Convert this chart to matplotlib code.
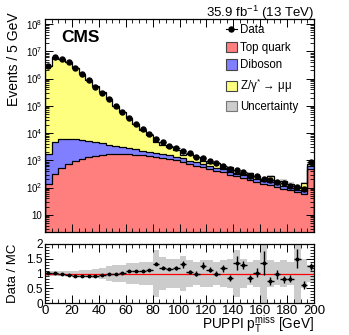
import numpy as np
import matplotlib
matplotlib.use("Agg")
import matplotlib.pyplot as plt
from matplotlib.patches import Patch
from matplotlib.lines import Line2D
from matplotlib.ticker import LogLocator, FixedLocator, MultipleLocator, NullFormatter

plt.rcParams['font.family'] = ['Liberation Sans', 'DejaVu Sans']
plt.rcParams['mathtext.fontset'] = 'custom'
plt.rcParams['mathtext.rm'] = 'Liberation Sans'
plt.rcParams['mathtext.it'] = 'Liberation Sans'

# ---- data (40 bins of 5 GeV, last bin includes overflow) ----
bin_edges = [0, 5, 10, 15, 20, 25, 30, 35, 40, 45, 50, 55, 60, 65, 70, 75, 80, 85, 90, 95,
             100, 105, 110, 115, 120, 125, 130, 135, 140, 145, 150, 155, 160, 165, 170, 175,
             180, 185, 190, 195, 200]

data_counts = [2.88e6, 6.17e6, 5.37e6, 3.98e6, 2.34e6, 1.41e6, 8.5e5, 4.8e5, 2.95e5, 1.78e5,
               1.0e5, 5.9e4, 3.7e4, 2.24e4, 1.41e4, 9550, 6310, 4570, 3470, 2950,
               2140, 1820, 1290, 1175, 912, 776, 631, 490, 457, 372,
               275, 263, 209, 195, 158, 145, 117, 102, 89, 871]

top_quark = [132, 316, 525, 759, 955, 1148, 1318, 1479, 1585, 1660,
             1698, 1698, 1660, 1622, 1549, 1479, 1349, 1259, 1148, 1000,
             871, 741, 646, 562, 490, 417, 363, 302, 257, 224,
             191, 166, 141, 123, 107, 91, 79, 68, 59, 490]

diboson = [1528, 4470, 5363, 5407, 5071, 4475, 3811, 3198, 2584, 2142,
           1769, 1392, 1094, 890, 742, 610, 556, 479, 401, 349,
           304, 236, 205, 179, 156, 120, 105, 87, 67, 58,
           49, 43, 37, 32, 28, 21, 19, 15, 13, 113]

drell_yan = [2.83e6, 6.06e6, 5.37e6, 4.15e6, 2.5e6, 1.52e6, 9.1e5, 5.1e5, 3.06e5, 1.8e5,
             9.7e4, 5.5e4, 3.2e4, 1.85e4, 1.08e4, 6400, 2880, 2064, 1471, 1106,
             447, 741, 437, 192, 161, 239, 71, 194, 30, 25,
             89, 48, 20, 104, 27, 68, 43, 15, 76, 105]

main_unc = [0.02] * 16 + [0.05] * 4 + [0.08] * 8 + [0.12] * 12

ratio = [1.02, 1.02, 1.0, 0.96, 0.93, 0.93, 0.93, 0.93, 0.95, 0.97,
         1.0, 1.01, 1.07, 1.07, 1.08, 1.12, 1.33, 1.2, 1.15, 1.2,
         1.32, 1.06, 1.0, 1.26, 1.13, 1.0, 1.17, 0.84, 1.36, 1.29,
         0.84, 1.03, 1.36, 0.75, 0.98, 0.8, 0.83, 1.5, 0.6, 1.24]

ratio_err = [0.01] * 11 + [0.03, 0.03, 0.03, 0.03, 0.03, 0.05, 0.04, 0.04, 0.07,
             0.12, 0.07, 0.07, 0.12, 0.09, 0.08, 0.12, 0.1, 0.25, 0.15,
             0.12, 0.15, 0.4, 0.13, 0.15, 0.12, 0.13, 0.33, 0.14, 0.12]

ratio_band = [0.08, 0.08, 0.08, 0.09, 0.10, 0.11, 0.13, 0.15, 0.2, 0.25,
              0.28, 0.3, 0.35, 0.35, 0.38, 0.4, 0.8, 0.55, 0.5, 0.5,
              0.6, 0.45, 0.4, 0.45, 0.45, 0.4, 0.45, 0.5, 0.8, 0.5,
              0.4, 0.45, 1.0, 0.45, 0.4, 0.45, 0.4, 1.0, 0.5, 0.3]

legend_labels = ["Data", "Top quark", "Diboson", "Z/\u03b3$^{*}$ \u2192 \u03bc\u03bc", "Uncertainty"]

# ---- styles ----
c_top = '#ff7f7f'
c_vv = '#7f7fff'
c_dy = '#ffff7f'
c_unc = '#cccccc'

edges = np.array(bin_edges, dtype=float)
centers = 0.5 * (edges[1:] + edges[:-1])
halfw = 0.5 * (edges[1:] - edges[:-1])
top_arr = np.array(top_quark, float)
vv_arr = np.array(diboson, float)
dy_arr = np.array(drell_yan, float)
s1 = top_arr
s2 = s1 + vv_arr
s3 = s2 + dy_arr
dat = np.array(data_counts, float)

W, H = 349, 335
fig = plt.figure(figsize=(W / 100, H / 100), dpi=100)
ax = fig.add_axes([45 / W, 1 - 232 / H, 269 / W, 213 / H])
rx = fig.add_axes([45 / W, 1 - 303 / H, 269 / W, 59 / H])

ax.set_yscale('log')
floor = 1e-3
ax.stairs(s3, edges, baseline=s2, fill=True, color=c_dy, lw=0)
ax.stairs(s2, edges, baseline=s1, fill=True, color=c_vv, lw=0)
ax.stairs(s1, edges, baseline=floor, fill=True, color=c_top, lw=0)
mu = np.array(main_unc)
ax.stairs(s3 * (1 + mu), edges, baseline=s3 * (1 - mu), fill=True, color='#999999', alpha=0.45, lw=0)
for s in (s1, s2, s3):
    ax.stairs(s, edges, color='black', lw=0.9)

ax.errorbar(centers, dat, yerr=np.sqrt(dat), xerr=halfw, fmt='o', color='black',
            ms=3.6, lw=0.8, capsize=0)

ax.set_xlim(0, 200)
ax.set_ylim(2.35, 1.53e8)
ax.yaxis.set_major_locator(LogLocator(base=10, numticks=20))
ax.yaxis.set_minor_locator(LogLocator(base=10, subs=np.arange(2, 10), numticks=20))
ax.yaxis.set_minor_formatter(NullFormatter())


def yfmt(v, pos):
    e = int(round(np.log10(v)))
    if e == 1:
        return '10'
    return r'$10^{%d}$' % e


ax.yaxis.set_major_formatter(plt.FuncFormatter(yfmt))
ax.xaxis.set_major_locator(MultipleLocator(20))
ax.xaxis.set_minor_locator(MultipleLocator(5))
ax.tick_params(axis='x', labelbottom=False)
for a in (ax, rx):
    a.tick_params(which='both', direction='in', top=True, right=True)
    a.tick_params(which='major', length=6, width=0.7)
    a.tick_params(which='minor', length=3, width=0.6)
    for sp in a.spines.values():
        sp.set_linewidth(0.9)
ax.tick_params(axis='y', labelsize=7, pad=2)

ax.set_ylabel('Events / 5 GeV', fontsize=10, loc='top')
ax.yaxis.set_label_coords(-0.088, 1.03)

ax.text(0.06, 0.95, 'CMS', transform=ax.transAxes, fontsize=12.5, fontweight='bold',
        ha='left', va='top')
fig.text(314 / W, 1 - 13 / H, r'35.9 fb$^{-1}$ (13 TeV)', fontsize=9.5, ha='right', va='center')

handles = [
    Line2D([0], [0], color='black', marker='o', ms=3.6, lw=0.8),
    Patch(facecolor=c_top, edgecolor='#444444', lw=0.8),
    Patch(facecolor=c_vv, edgecolor='#444444', lw=0.8),
    Patch(facecolor=c_dy, edgecolor='#444444', lw=0.8),
    Patch(facecolor=c_unc, edgecolor='#777777', lw=0.8),
]
leg = fig.legend(handles, legend_labels, loc='upper left', bbox_to_anchor=(226 / W, 1 - 24 / H),
                 frameon=False, fontsize=8.3, handlelength=0.95, handleheight=1.0,
                 handletextpad=0.25, labelspacing=0.48, borderpad=0, borderaxespad=0)

# ---- ratio ----
rb = np.array(ratio_band)
rx.stairs(1 + rb, edges, baseline=1 - rb, fill=True, color=c_unc, lw=0)
rx.axhline(1.0, color='red', lw=0.9)
rx.errorbar(centers, ratio, yerr=ratio_err, xerr=halfw, fmt='o', color='black',
            ms=1.8, lw=1.0, capsize=0)
rx.set_xlim(0, 200)
rx.set_ylim(0, 2)
rx.xaxis.set_major_locator(MultipleLocator(20))
rx.xaxis.set_minor_locator(MultipleLocator(5))
rx.yaxis.set_major_locator(FixedLocator([0, 0.5, 1, 1.5, 2]))
rx.yaxis.set_major_formatter(plt.FuncFormatter(lambda v, p: ('%g' % v)))
rx.yaxis.set_minor_locator(MultipleLocator(0.1))
rx.tick_params(axis='x', labelsize=9.5, pad=1.5)
rx.tick_params(axis='y', labelsize=8.5, pad=1.5)
rx.set_ylabel('Data / MC', fontsize=9.5)
rx.yaxis.set_label_coords(-0.095, 0.5)
fig.text(314 / W, 1 - 324 / H, r'PUPPI p$_{\mathregular{T}}^{\mathregular{miss}}$ [GeV]',
         fontsize=9.8, ha='right', va='center')

fig.savefig('out.png', dpi=100)
